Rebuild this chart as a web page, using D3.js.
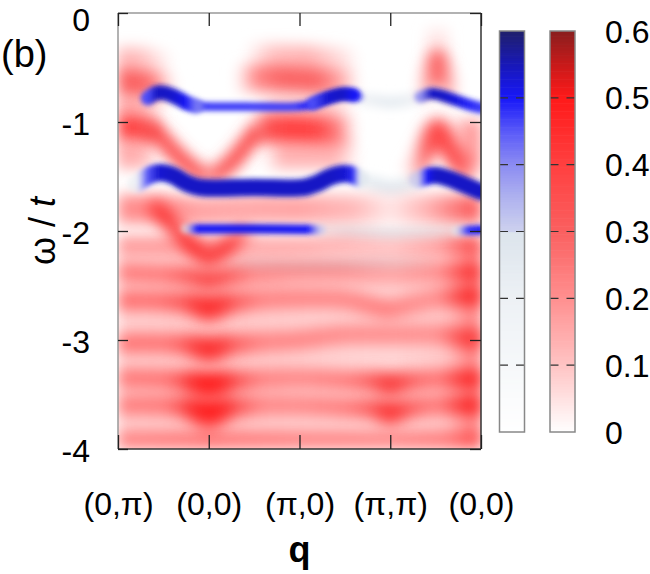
<!DOCTYPE html>
<html>
<head>
<meta charset="utf-8">
<script src="https://cdn.jsdelivr.net/npm/d3@7"></script>
<style>
  body { margin: 0; background: #fff; }
  svg { font-family: "Liberation Sans", Arial, sans-serif; }
</style>
</head>
<body>
<script>
// axis ticks
const qTicks = [0, 1, 2, 3, 4];
const qLabels = ["(0,π)", "(0,0)", "(π,0)", "(π,π)", "(0,0)"];
const omegaTicks = [0, -1, -2, -3, -4];
const cbTicks = [0, 0.1, 0.2, 0.3, 0.4, 0.5, 0.6];

// spectral branches: [q, omega, weight]
// blue map
const blueTopHumpL = [[0.33, -0.78, 0.46], [0.42, -0.735, 0.54], [0.52, -0.735, 0.54], [0.63, -0.77, 0.53], [0.75, -0.82, 0.5], [0.86, -0.855, 0.42]];
const blueTopFlat = [[0.75, -0.84, 0.42], [0.9, -0.855, 0.47], [1.5, -0.86, 0.47], [1.95, -0.86, 0.47], [2.1, -0.845, 0.5], [2.3, -0.785, 0.52], [2.48, -0.745, 0.53], [2.6, -0.75, 0.5], [2.67, -0.77, 0.36]];
const blueTopHumpR = [[2.15, -0.83, 0.46], [2.3, -0.78, 0.53], [2.47, -0.745, 0.54], [2.6, -0.755, 0.5]];
const blueTopEnd = [[3.33, -0.77, 0.4], [3.45, -0.74, 0.54], [3.58, -0.76, 0.54], [3.72, -0.8, 0.52], [3.86, -0.84, 0.49], [4.0, -0.87, 0.47]];
const blueMid = [[0.2, -1.57, 0.25], [0.32, -1.5, 0.45], [0.45, -1.465, 0.53], [0.6, -1.49, 0.54], [0.75, -1.56, 0.54], [0.9, -1.6, 0.54], [1.5, -1.6, 0.54], [2.05, -1.6, 0.54], [2.2, -1.56, 0.54], [2.35, -1.5, 0.54], [2.5, -1.475, 0.53], [2.6, -1.49, 0.48], [2.67, -1.52, 0.3]];
const blueMidEnd = [[3.3, -1.53, 0.32], [3.4, -1.5, 0.5], [3.5, -1.49, 0.54], [3.65, -1.52, 0.54], [3.8, -1.57, 0.54], [4.0, -1.64, 0.54]];
const blueLow = [[0.74, -1.98, 0.3], [0.86, -1.98, 0.5], [1.5, -1.98, 0.51], [2.1, -1.985, 0.5], [2.24, -1.99, 0.32]];
const blueLowEnd = [[3.72, -2.0, 0.28], [3.85, -1.995, 0.48], [4.0, -1.99, 0.5]];
// faint blue weight round (pi,pi)
const blueFaintTop = [[2.6, -0.79, 0.1], [2.8, -0.8, 0.22], [3.0, -0.82, 0.24], [3.2, -0.8, 0.22], [3.36, -0.77, 0.1]];
const blueFaintMid = [[2.62, -1.53, 0.12], [2.8, -1.56, 0.24], [3.0, -1.6, 0.25], [3.2, -1.57, 0.24], [3.35, -1.53, 0.12]];
const blueFaintLow = [[2.2, -1.99, 0.12], [2.5, -2.0, 0.22], [3.0, -2.02, 0.24], [3.5, -2.01, 0.22], [3.78, -2.0, 0.12]];
const blueFaintDeep = [[1.2, -2.31, 0.04], [1.5, -2.31, 0.17], [2.0, -2.32, 0.19], [2.5, -2.31, 0.19], [2.9, -2.3, 0.17], [3.2, -2.3, 0.12], [3.5, -2.3, 0.03]];

// red map
const redTopL = [[0, -0.45, 0.13], [0.25, -0.45, 0.11], [0.45, -0.48, 0.05], [0.6, -0.5, 0]];
const redUpperL = [[0, -0.64, 0.29], [0.25, -0.65, 0.29], [0.42, -0.67, 0.22], [0.55, -0.69, 0.06], [0.65, -0.7, 0]];
const redFillL = [[0, -0.86, 0.17], [0.3, -0.86, 0.12], [0.5, -0.88, 0]];
const redLowerL = [[0, -1.05, 0.4], [0.2, -1.05, 0.38], [0.35, -1.07, 0.31], [0.45, -1.1, 0.08]];
const redArmL = [[0.33, -1.04, 0.28], [0.45, -1.12, 0.34], [0.6, -1.26, 0.34], [0.78, -1.4, 0.34], [0.95, -1.49, 0.28], [1.0, -1.51, 0.22]];
const redArmR = [[1.0, -1.51, 0.22], [1.08, -1.48, 0.29], [1.25, -1.37, 0.34], [1.42, -1.2, 0.34], [1.55, -1.06, 0.31]];
const redLowerR = [[1.5, -1.06, 0.12], [1.62, -1.06, 0.34], [1.9, -1.06, 0.4], [2.2, -1.07, 0.38], [2.45, -1.08, 0.22], [2.62, -1.1, 0]];
const redUpperR = [[1.3, -0.6, 0], [1.5, -0.6, 0.2], [1.8, -0.61, 0.28], [2.2, -0.63, 0.28], [2.45, -0.65, 0.15], [2.65, -0.68, 0]];
const redTopR = [[1.4, -0.42, 0], [1.7, -0.42, 0.11], [2.1, -0.43, 0.13], [2.5, -0.46, 0.05], [2.65, -0.48, 0]];
const redFillR = [[1.55, -0.88, 0], [1.7, -0.87, 0.11], [2.3, -0.88, 0.11], [2.6, -0.9, 0]];
const redGapL = [[0, -1.3, 0.16], [0.3, -1.3, 0.12], [0.45, -1.32, 0]];
const redGapR = [[1.6, -1.3, 0], [1.8, -1.3, 0.13], [2.4, -1.3, 0.13], [2.65, -1.32, 0]];
const redSub = [[0, -1.8, 0.2], [0.5, -1.8, 0.21], [0.9, -1.82, 0.16], [1.4, -1.8, 0.15], [2.0, -1.8, 0.16], [2.6, -1.8, 0.12], [3.0, -1.8, 0.04], [3.4, -1.8, 0.13], [3.8, -1.8, 0.27], [4.0, -1.8, 0.33]];
const redV2 = [[0.35, -1.75, 0.17], [0.5, -1.87, 0.32], [0.7, -2.04, 0.34], [0.86, -2.17, 0.34], [1.0, -2.24, 0.32], [1.15, -2.18, 0.32], [1.3, -2.08, 0.27], [1.45, -1.98, 0.1]];
const redPeakTop = [[3.3, -0.76, 0], [3.42, -0.6, 0.24], [3.52, -0.42, 0.3], [3.62, -0.6, 0.24], [3.75, -0.78, 0]];
const redStreakTop = [[3.52, -0.15, 0.04], [3.52, -0.42, 0.04]];
const redPeakMid = [[3.22, -1.48, 0.05], [3.36, -1.3, 0.29], [3.52, -1.06, 0.38], [3.66, -1.25, 0.35], [3.8, -1.42, 0.26], [3.92, -1.52, 0.12]];
const redEdgeMid = [[3.65, -1.2, 0], [3.8, -1.2, 0.15], [4.0, -1.2, 0.21]];
const redContinuum = [[0, -3.05, 0.08], [0.8, -3.05, 0.09], [1.0, -3.05, 0.11], [1.2, -3.05, 0.09], [2.0, -3.05, 0.08], [3.0, -3.05, 0.07], [3.6, -3.05, 0.09], [3.85, -3.05, 0.2], [4.0, -3.05, 0.26]];
const redS1 = [[0, -2.12, 0.15], [0.5, -2.12, 0.15], [1.5, -2.12, 0.11], [2.0, -2.12, 0.11], [2.5, -2.1, 0.11], [3.0, -2.12, 0.07], [3.5, -2.12, 0.13], [3.8, -2.12, 0.26], [4.0, -2.12, 0.32]];
const redS2 = [[0, -2.38, 0.18], [0.5, -2.4, 0.18], [0.8, -2.42, 0.27], [1.0, -2.45, 0.31], [1.2, -2.42, 0.27], [1.5, -2.4, 0.15], [2.0, -2.38, 0.13], [2.5, -2.38, 0.13], [3.0, -2.4, 0.1], [3.5, -2.38, 0.13], [3.8, -2.38, 0.26], [4.0, -2.38, 0.32]];
const redS3 = [[0, -2.64, 0.21], [0.4, -2.64, 0.2], [0.75, -2.66, 0.27], [1.0, -2.7, 0.33], [1.25, -2.66, 0.27], [1.6, -2.63, 0.16], [2.0, -2.62, 0.16], [2.5, -2.63, 0.16], [2.85, -2.7, 0.18], [3.0, -2.72, 0.18], [3.2, -2.68, 0.15], [3.5, -2.62, 0.13], [3.8, -2.6, 0.3], [4.0, -2.6, 0.36]];
const redS4 = [[0, -3.03, 0.2], [0.5, -3.03, 0.19], [0.8, -3.05, 0.27], [1.0, -3.08, 0.33], [1.2, -3.05, 0.27], [1.6, -3.02, 0.16], [2.0, -3.0, 0.16], [2.5, -2.95, 0.15], [3.0, -2.95, 0.15], [3.5, -2.95, 0.13], [3.8, -2.98, 0.26], [4.0, -3.0, 0.3]];
const redS5 = [[0, -3.35, 0.18], [0.5, -3.36, 0.19], [0.75, -3.38, 0.31], [1.0, -3.4, 0.41], [1.25, -3.38, 0.31], [1.6, -3.36, 0.16], [2.0, -3.35, 0.15], [2.5, -3.37, 0.18], [2.8, -3.38, 0.26], [3.0, -3.4, 0.3], [3.2, -3.38, 0.26], [3.5, -3.36, 0.18], [3.8, -3.36, 0.32], [4.0, -3.36, 0.38]];
const redS6 = [[0, -3.6, 0.17], [0.5, -3.6, 0.18], [0.75, -3.62, 0.31], [1.0, -3.66, 0.42], [1.25, -3.62, 0.31], [1.6, -3.6, 0.15], [2.0, -3.6, 0.15], [2.5, -3.62, 0.18], [2.8, -3.63, 0.26], [3.0, -3.66, 0.33], [3.2, -3.63, 0.26], [3.5, -3.6, 0.17], [3.8, -3.6, 0.32], [4.0, -3.6, 0.38]];
const redS7 = [[0, -3.92, 0.17], [1.0, -3.92, 0.19], [2.0, -3.92, 0.17], [3.0, -3.92, 0.17], [4.0, -3.92, 0.19]];
const redBlob3 = [[0.7, -2.66, 0], [0.85, -2.68, 0.12], [1.0, -2.72, 0.17], [1.15, -2.68, 0.12], [1.3, -2.66, 0]];
const redBlob4 = [[0.7, -3.05, 0], [0.85, -3.07, 0.12], [1.0, -3.1, 0.17], [1.15, -3.07, 0.12], [1.3, -3.05, 0]];
const redBlob5 = [[0.68, -3.38, 0], [0.85, -3.41, 0.18], [1.0, -3.44, 0.22], [1.15, -3.41, 0.18], [1.32, -3.38, 0]];
const redBlob6 = [[0.68, -3.63, 0], [0.85, -3.66, 0.18], [1.0, -3.7, 0.22], [1.15, -3.66, 0.18], [1.32, -3.63, 0]];
const redBlobPi5 = [[2.75, -3.38, 0], [3.0, -3.42, 0.14], [3.25, -3.38, 0]];
const redBlobPi6 = [[2.75, -3.64, 0], [3.0, -3.68, 0.16], [3.25, -3.64, 0]];

// linewidth (in omega) for each branch
const redLayers = [
  [redContinuum, 1.85], [redTopL, 0.26], [redUpperL, 0.24], [redFillL, 0.18], [redLowerL, 0.24],
  [redArmL, 0.16], [redArmR, 0.16], [redLowerR, 0.26], [redUpperR, 0.24], [redTopR, 0.26],
  [redFillR, 0.15], [redGapL, 0.26], [redGapR, 0.26], [redSub, 0.26], [redV2, 0.16],
  [redPeakTop, 0.17], [redStreakTop, 0.2], [redPeakMid, 0.19], [redEdgeMid, 0.44],
  [redS1, 0.16], [redS2, 0.17], [redS3, 0.18], [redS4, 0.18], [redS5, 0.18], [redS6, 0.18], [redS7, 0.16],
  [redBlob3, 0.22], [redBlob4, 0.22], [redBlob5, 0.24], [redBlob6, 0.24], [redBlobPi5, 0.22], [redBlobPi6, 0.22]
];
const blueFaintLayers = [
  [blueFaintTop, 0.11], [blueFaintMid, 0.13], [blueFaintLow, 0.1], [blueFaintDeep, 0.11]
];
const blueLayers = [
  [blueTopFlat, 0.08], [blueTopHumpL, 0.135], [blueTopHumpR, 0.12], [blueTopEnd, 0.105],
  [blueMid, 0.16], [blueMidEnd, 0.155], [blueLow, 0.085], [blueLowEnd, 0.085]
];

const W = 650, H = 574;
const x = d3.scaleLinear().domain([0, 4]).range([118, 481]);
const y = d3.scaleLinear().domain([-4, 0]).range([449, 13]);
const cb = d3.scaleLinear().domain([0, 0.6]).range([432, 31]);

const blueColor = d3.scaleLinear()
    .domain([0, 0.2, 0.3, 0.301, 0.35, 0.4, 0.45, 0.5, 0.55, 0.6])
    .range(["#ffffff", "#edf1f5", "#dce4ec", "#cdd1ee", "#b0b3ef", "#8c8cf2", "#5a5af8", "#1818f8", "#1818b8", "#20206c"])
    .clamp(true);
const redColor = d3.scaleLinear()
    .domain([0, 0.1, 0.2, 0.3, 0.4, 0.5, 0.55, 0.6])
    .range(["#ffffff", "#ffc4c4", "#ff9090", "#fa6060", "#ff4040", "#ff1a1a", "#c81a1a", "#8a1e1e"])
    .clamp(true);

const svg = d3.select("body").append("svg")
    .attr("width", W)
    .attr("height", H);
const defs = svg.append("defs");

defs.append("clipPath").attr("id", "clip")
  .append("rect")
    .attr("x", x(0)).attr("y", y(0))
    .attr("width", x(4) - x(0)).attr("height", y(-4) - y(0));

function blurFilter(id, sd) {
  defs.append("filter").attr("id", id)
      .attr("filterUnits", "userSpaceOnUse")
      .attr("x", 0).attr("y", 0).attr("width", W).attr("height", H)
    .append("feGaussianBlur").attr("stdDeviation", sd);
}
blurFilter("blurRed", 7);
blurFilter("blurFaint", 5);
blurFilter("blurBlue", 2.4);

const line = d3.line()
    .x(d => x(d[0]))
    .y(d => y(d[1]))
    .curve(d3.curveCatmullRom);

let gradId = 0;
// one branch = one stroked path, weight varies along q through a gradient
function drawBand(layer, pts, gamma, color, opts) {
  const id = "grad" + (gradId++);
  const x0 = x(d3.min(pts, p => p[0])), x1 = x(d3.max(pts, p => p[0]));
  const grad = defs.append("linearGradient").attr("id", id)
      .attr("gradientUnits", "userSpaceOnUse")
      .attr("x1", x0).attr("x2", x1 > x0 ? x1 : x0 + 1)
      .attr("y1", 0).attr("y2", 0);
  pts.forEach(p => {
    grad.append("stop")
        .attr("offset", x1 > x0 ? (x(p[0]) - x0) / (x1 - x0) : 0)
        .attr("stop-color", color(p[2]))
        .attr("stop-opacity", opts.fade ? Math.min(1, p[2] / opts.fade) : 1);
  });
  layer.append("path")
      .attr("d", line(pts))
      .attr("fill", "none")
      .attr("stroke", `url(#${id})`)
      .attr("stroke-width", y(-gamma) - y(0))
      .attr("stroke-linecap", opts.cap || "butt")
      .attr("filter", `url(#${opts.blur})`)
      .style("mix-blend-mode", opts.blend || "normal");
}

// heat map
const plot = svg.append("g")
    .attr("clip-path", "url(#clip)")
    .style("isolation", "isolate");
plot.append("rect")
    .attr("x", x(0)).attr("y", y(0))
    .attr("width", x(4) - x(0)).attr("height", y(-4) - y(0))
    .attr("fill", "#fff");

redLayers.forEach(([pts, g]) => drawBand(plot, pts, g, redColor, {blur: "blurRed", blend: "multiply"}));
blueFaintLayers.forEach(([pts, g]) => drawBand(plot, pts, g, blueColor, {blur: "blurFaint", blend: "multiply"}));
blueLayers.forEach(([pts, g]) => drawBand(plot, pts, g, blueColor, {blur: "blurBlue", fade: 0.45, cap: "round"}));

// frame
const frame = svg.append("g").attr("stroke-width", 1.5);
frame.append("line").attr("x1", x(0)).attr("x2", x(4)).attr("y1", y(0)).attr("y2", y(0)).attr("stroke", "#999");
frame.append("line").attr("x1", x(0)).attr("x2", x(0)).attr("y1", y(0)).attr("y2", y(-4)).attr("stroke", "#999");
frame.append("line").attr("x1", x(0)).attr("x2", x(4)).attr("y1", y(-4)).attr("y2", y(-4)).attr("stroke", "#333");
frame.append("line").attr("x1", x(4)).attr("x2", x(4)).attr("y1", y(0)).attr("y2", y(-4)).attr("stroke", "#333");

// axes
function styleAxis(g) {
  g.select(".domain").remove();
  g.selectAll(".tick line").attr("stroke", "#222").attr("stroke-width", 1.3);
  g.selectAll(".tick text").attr("fill", "#000");
  g.attr("font-size", 32).attr("font-family", '"Liberation Sans", Arial, sans-serif');
}

svg.append("g")
    .attr("transform", `translate(0,${y(-4)})`)
    .call(d3.axisBottom(x).tickValues(qTicks).tickSize(-14).tickPadding(43).tickFormat((d, i) => qLabels[i]))
    .call(styleAxis);
svg.append("g")
    .attr("transform", `translate(0,${y(0)})`)
    .call(d3.axisTop(x).tickValues(qTicks).tickSize(-13).tickFormat(""))
    .call(styleAxis);
svg.append("g")
    .attr("transform", `translate(${x(0)},0)`)
    .call(d3.axisLeft(y).tickValues(omegaTicks).tickSize(-10).tickPadding(28).tickFormat(d => String(d)))
    .call(styleAxis)
    .selectAll(".tick text").attr("dy", d => d === 0 ? "0.56em" : "0.4em");
svg.append("g")
    .attr("transform", `translate(${x(4)},0)`)
    .call(d3.axisRight(y).tickValues(omegaTicks).tickSize(-11).tickFormat(""))
    .call(styleAxis);

// axis titles
svg.append("text")
    .attr("x", (x(0) + x(4)) / 2)
    .attr("y", 562)
    .attr("text-anchor", "middle")
    .attr("font-size", 36)
    .attr("font-weight", "bold")
    .text("q");

const yTitle = svg.append("text")
    .attr("transform", `translate(55,${(y(0) + y(-4)) / 2}) rotate(-90)`)
    .attr("text-anchor", "middle")
    .attr("font-size", 36);
yTitle.append("tspan").text("ω / ");
yTitle.append("tspan").attr("font-style", "italic").text("t");

svg.append("text")
    .attr("x", 1)
    .attr("y", 67)
    .attr("font-size", 38)
    .text("(b)");

// colour boxes
const steps = d3.range(0, 0.6, 0.004);
function colorBox(x0, color) {
  const g = svg.append("g");
  g.selectAll("rect.step")
    .data(steps)
    .join("rect")
      .attr("class", "step")
      .attr("x", x0)
      .attr("width", 25)
      .attr("y", d => cb(d + 0.004))
      .attr("height", d => cb(d) - cb(d + 0.004) + 0.6)
      .attr("fill", d => color(d + 0.002));
  g.selectAll("line.grid")
    .data(cbTicks.slice(1, -1))
    .join("line")
      .attr("class", "grid")
      .attr("x1", x0).attr("x2", x0 + 25)
      .attr("y1", d => cb(d)).attr("y2", d => cb(d))
      .attr("stroke", "#333")
      .attr("stroke-width", 1.2)
      .attr("stroke-dasharray", "8.5,8");
  g.append("rect")
      .attr("x", x0).attr("y", cb(0.6))
      .attr("width", 25).attr("height", cb(0) - cb(0.6))
      .attr("fill", "none")
      .attr("stroke", "#888")
      .attr("stroke-width", 1.5);
}
colorBox(499.5, blueColor);
colorBox(550, redColor);

svg.append("g")
  .selectAll("text")
  .data(cbTicks)
  .join("text")
    .attr("x", 605)
    .attr("y", d => cb(d))
    .attr("dy", "0.36em")
    .attr("font-size", 32)
    .text(d => String(d));
</script>
</body>
</html>
